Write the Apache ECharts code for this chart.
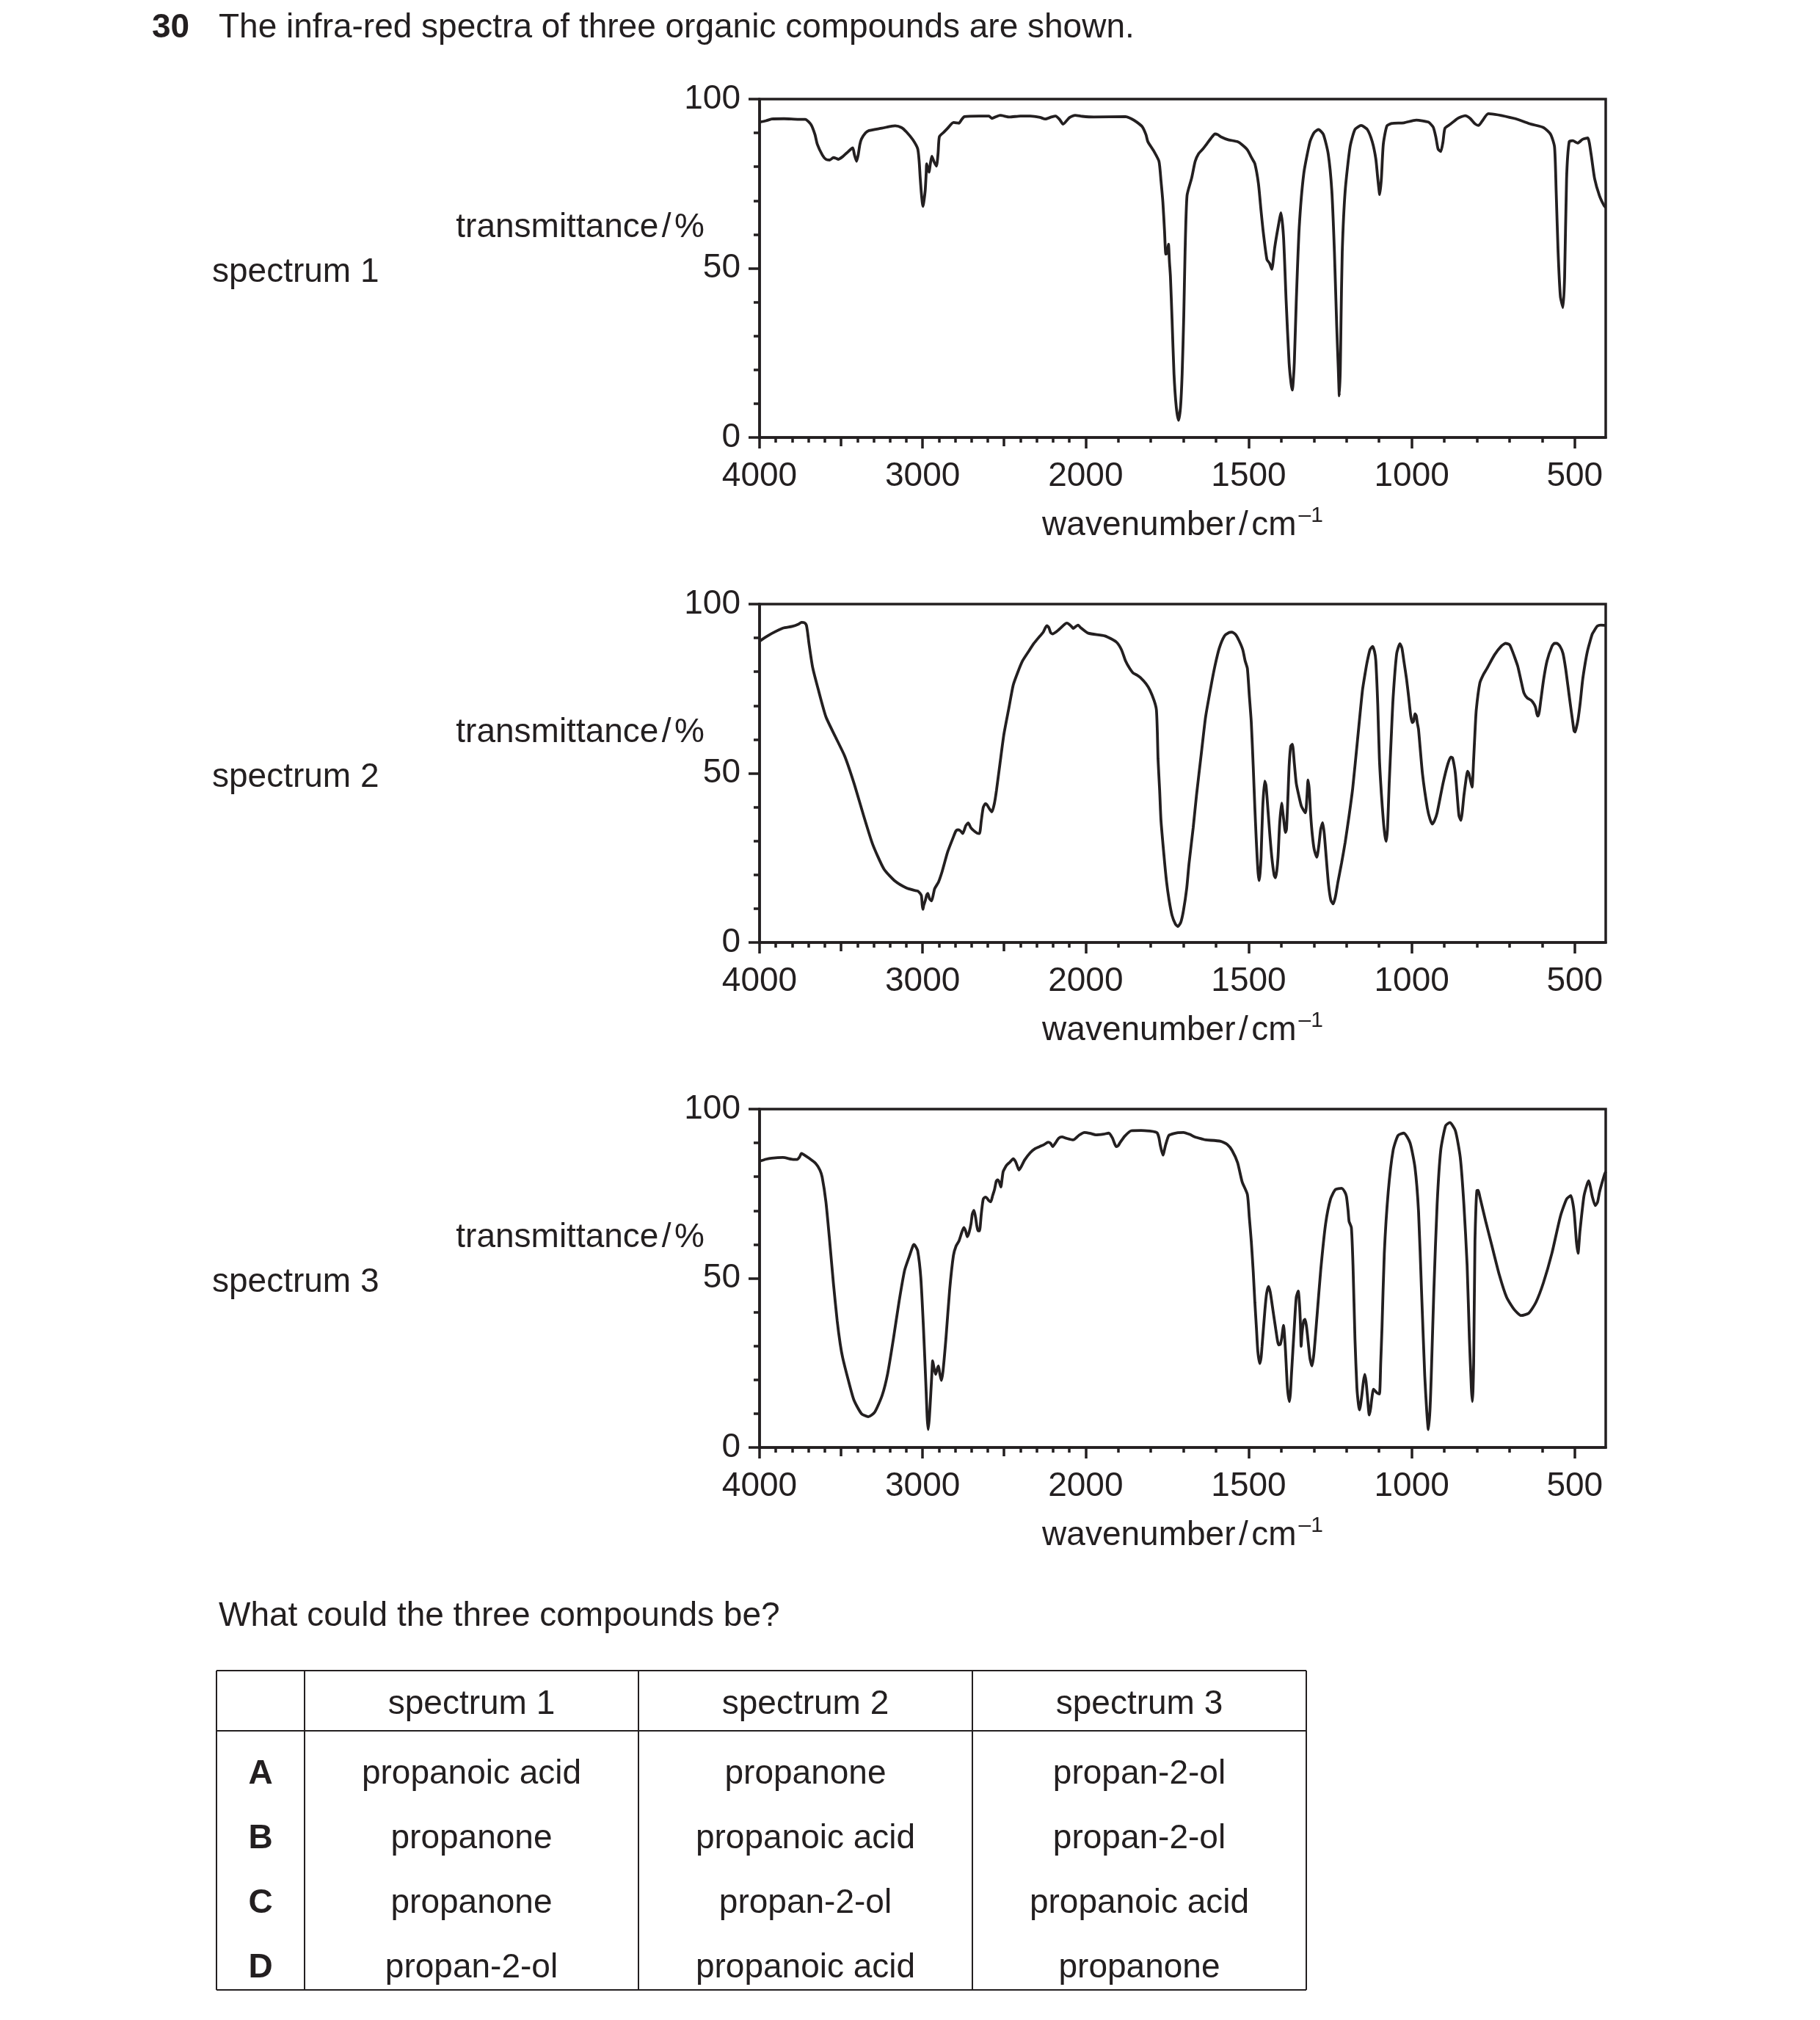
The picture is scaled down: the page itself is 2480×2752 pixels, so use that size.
<!DOCTYPE html>
<html>
<head>
<meta charset="utf-8">
<title>Infra-red spectra of three organic compounds</title>
<script src="https://cdn.jsdelivr.net/npm/echarts@6/dist/echarts.min.js"></script>
<style>
    html, body { margin: 0; padding: 0; background: #fff; }
    #chart { width: 2480px; height: 2752px; }
</style>
</head>
<body>
<div id="chart"></div>
<script>
    // [wavenumber / cm-1, transmittance / %]
    const spectrum1 = [
        [4000,93.2],[3960,93.6],[3926,94.1],[3850,94.2],[3760,94.0],[3720,94.0],[3685,92.5],[3660,89.5],[3646,86.7],[3615,83.5],
        [3593,82.2],[3570,82.0],[3547,82.7],[3530,82.5],[3517,82.2],[3490,83.0],[3467,84.0],[3440,85.2],[3428,85.6],[3418,83.5],
        [3405,81.6],[3395,83.5],[3385,86.5],[3375,88.2],[3350,90.0],[3329,90.7],[3250,91.4],[3190,92.0],[3168,92.1],[3130,91.6],
        [3099,90.3],[3060,88.0],[3030,85.3],[3021,81.6],[3015,77.0],[3009,73.0],[3002,69.5],[2998,68.3],[2993,69.5],[2984,73.0],
        [2978,78.0],[2975,80.9],[2968,79.5],[2961,78.4],[2952,81.0],[2943,83.1],[2930,81.5],[2915,80.2],[2905,84.0],[2897,88.9],
        [2870,90.2],[2846,91.4],[2811,93.1],[2795,93.0],[2777,92.9],[2760,94.0],[2743,94.8],[2650,95.0],[2593,95.0],[2575,94.3],
        [2550,94.8],[2524,95.2],[2467,94.7],[2400,95.0],[2340,95.0],[2280,94.6],[2248,94.1],[2210,94.7],[2184,95.0],[2160,94.0],
        [2138,92.6],[2100,94.5],[2064,95.2],[2020,94.9],[1975,94.7],[1878,94.8],[1860,94.2],[1843,93.2],[1826,91.8],[1815,89.5],
        [1809,87.4],[1790,84.5],[1775,81.6],[1769,76.0],[1763,69.4],[1758,61.0],[1754,54.2],[1750,54.5],[1746,57.1],[1743,52.0],
        [1740,47.7],[1735,35.0],[1729,18.8],[1722,9.0],[1715,5.1],[1709,9.0],[1704,18.8],[1699,36.0],[1695,54.9],[1689,71.5],
        [1675,76.6],[1664,81.6],[1654,83.8],[1640,85.3],[1632,86.3],[1615,88.5],[1603,89.7],[1595,89.5],[1586,88.9],[1563,88.0],
        [1534,87.4],[1520,86.5],[1504,85.0],[1490,82.5],[1481,80.9],[1470,75.0],[1462,67.0],[1455,60.5],[1444,52.6],[1436,51.5],
        [1429,49.7],[1420,56.2],[1410,62.0],[1401,66.4],[1393,59.1],[1385,40.2],[1376,22.1],[1370,16.0],[1366,14.0],[1363,17.0],
        [1360,22.1],[1354,40.2],[1345,62.0],[1331,78.0],[1312,87.4],[1300,90.0],[1286,91.0],[1271,89.6],[1256,83.8],[1245,72.9],
        [1237,54.8],[1230,33.0],[1225,20.0],[1222,12.3],[1219,20.0],[1217,33.0],[1213,54.8],[1204,72.9],[1189,85.9],[1174,91.0],
        [1155,92.2],[1136,91.0],[1121,87.4],[1110,82.3],[1104,76.5],[1098,71.8],[1093,76.5],[1087,86.7],[1076,92.1],[1061,92.8],
        [1024,93.0],[986,93.8],[949,93.2],[934,91.7],[926,88.8],[919,85.2],[911,84.5],[904,87.4],[898,91.4],[881,92.6],
        [859,94.3],[836,95.1],[821,94.3],[806,92.7],[795,92.2],[784,93.5],[765,95.7],[686,94.3],[634,92.6],[596,91.6],
        [574,89.6],[562,85.9],[557,72.9],[551,54.8],[544,41.7],[536,38.4],[531,47.5],[525,76.5],[517,87.4],[506,87.7],
        [491,87.0],[476,88.1],[460,88.5],[450,83.8],[439,76.5],[424,71.4],[410,68.5],[405,68.0]
    ]
    const spectrum2 = [
        [4000,89.0],[3960,90.3],[3926,91.3],[3857,92.9],[3800,93.4],[3760,94.1],[3743,94.6],[3725,94.5],[3713,93.8],[3705,91.5],
        [3697,88.4],[3674,81.2],[3639,74.6],[3593,66.7],[3536,60.9],[3478,55.1],[3421,47.1],[3363,37.7],[3306,29.0],[3237,21.7],
        [3168,18.1],[3099,16.1],[3050,15.4],[3030,15.2],[3015,14.5],[3007,13.8],[3002,11.0],[2998,9.8],[2993,11.0],[2984,12.3],
        [2975,14.0],[2968,14.5],[2958,13.0],[2945,12.3],[2935,14.0],[2926,15.9],[2903,17.8],[2880,21.0],[2846,26.8],[2811,31.2],
        [2795,33.0],[2782,33.3],[2768,33.0],[2754,32.2],[2735,34.5],[2720,35.3],[2705,34.0],[2685,33.0],[2665,32.3],[2651,32.2],
        [2640,36.0],[2628,39.9],[2615,41.0],[2605,40.7],[2590,39.5],[2575,38.6],[2560,41.0],[2547,44.9],[2525,53.0],[2501,61.6],
        [2470,69.5],[2444,76.1],[2415,80.0],[2386,83.3],[2350,86.0],[2317,88.4],[2290,90.0],[2260,91.7],[2245,93.2],[2237,93.6],
        [2225,93.0],[2215,91.6],[2202,91.2],[2180,91.8],[2156,92.8],[2130,94.0],[2115,94.4],[2100,94.0],[2085,93.3],[2076,92.8],
        [2060,93.4],[2046,93.8],[2030,93.0],[1992,91.4],[1941,90.6],[1906,88.8],[1890,86.5],[1878,83.3],[1865,81.0],[1855,79.7],
        [1842,79.0],[1832,78.3],[1815,76.5],[1803,74.6],[1790,71.5],[1783,68.8],[1780,62.0],[1778,54.3],[1773,45.0],[1769,36.2],
        [1760,26.0],[1752,18.1],[1744,12.5],[1735,8.0],[1725,5.5],[1717,4.7],[1708,6.0],[1700,9.4],[1690,16.0],[1683,23.2],
        [1670,34.0],[1660,43.5],[1645,56.0],[1632,66.7],[1615,76.0],[1603,81.9],[1590,87.0],[1574,90.6],[1560,91.6],[1551,91.7],
        [1540,91.0],[1529,89.1],[1518,86.5],[1511,83.3],[1504,81.0],[1498,73.0],[1492,65.1],[1486,52.0],[1481,39.7],[1477,31.0],
        [1474,25.2],[1471,20.5],[1468,18.3],[1465,20.5],[1462,25.2],[1457,39.7],[1451,47.7],[1447,46.5],[1444,43.3],[1436,33.0],
        [1429,25.2],[1422,20.0],[1418,19.1],[1414,21.0],[1410,25.2],[1405,35.0],[1399,41.2],[1394,37.5],[1387,32.5],[1384,33.5],
        [1380,42.0],[1376,52.0],[1371,58.0],[1366,58.6],[1360,53.0],[1354,47.0],[1346,43.3],[1338,40.2],[1326,38.3],[1321,43.5],
        [1318,48.0],[1314,45.0],[1310,38.0],[1305,32.0],[1299,27.5],[1291,25.2],[1285,28.5],[1279,33.5],[1273,35.4],[1268,32.0],
        [1262,25.0],[1255,17.0],[1248,12.5],[1241,11.4],[1234,13.5],[1226,18.0],[1215,23.5],[1204,29.6],[1192,37.5],[1181,45.5],
        [1166,60.0],[1151,74.5],[1142,80.0],[1136,83.2],[1128,86.5],[1120,87.5],[1114,86.0],[1110,83.2],[1104,70.0],[1099,54.2],
        [1093,44.0],[1087,36.1],[1082,31.5],[1078,29.9],[1074,34.0],[1069,47.0],[1063,60.0],[1057,72.3],[1046,85.4],[1036,88.3],
        [1030,87.0],[1024,83.2],[1016,78.0],[1009,72.3],[1003,67.0],[998,65.0],[994,65.4],[990,67.6],[986,67.0],[983,65.0],
        [979,62.9],[967,49.9],[952,39.7],[944,36.5],[937,35.0],[930,36.0],[922,38.3],[904,47.0],[889,52.8],[880,54.8],
        [875,54.6],[870,52.5],[866,49.9],[860,43.0],[855,37.5],[849,36.1],[845,38.5],[840,43.3],[833,48.5],[829,50.6],
        [825,50.0],[821,48.4],[815,45.9],[810,54.2],[806,62.0],[802,68.7],[791,76.7],[780,79.2],[769,81.0],[746,85.0],
        [725,87.6],[712,88.4],[700,88.0],[694,86.8],[685,84.5],[675,81.7],[665,77.5],[656,73.8],[645,72.2],[634,71.6],
        [625,70.5],[620,69.4],[616,67.5],[613,66.9],[609,68.0],[604,71.6],[595,78.0],[585,83.2],[570,87.5],[562,88.4],
        [555,88.4],[545,87.5],[536,85.4],[528,81.0],[521,75.9],[513,70.0],[506,65.1],[502,62.5],[499,62.2],[495,63.5],
        [490,65.8],[483,71.0],[476,77.4],[468,82.5],[461,86.1],[453,89.0],[446,91.2],[438,92.5],[431,93.5],[420,93.8],
        [405,93.7]
    ]
    const spectrum3 = [
        [4000,84.6],[3960,85.2],[3926,85.5],[3857,85.7],[3789,85.1],[3770,85.1],[3755,85.8],[3743,86.9],[3730,86.6],[3697,85.5],
        [3655,83.9],[3630,82.0],[3616,79.9],[3593,72.6],[3570,61.0],[3547,48.5],[3524,37.5],[3505,30.5],[3490,26.5],[3455,19.8],
        [3421,14.0],[3375,10.0],[3333,9.1],[3294,10.4],[3248,15.4],[3214,21.9],[3179,32.1],[3145,42.9],[3110,52.4],[3080,56.7],
        [3060,59.5],[3053,60.0],[3045,59.6],[3030,58.1],[3011,50.2],[2995,35.7],[2979,17.6],[2972,9.0],[2966,5.3],[2959,8.5],
        [2952,14.0],[2944,21.0],[2938,25.6],[2930,23.5],[2920,21.6],[2912,23.0],[2903,24.1],[2895,22.0],[2885,19.8],[2875,22.5],
        [2857,32.1],[2834,46.6],[2811,56.7],[2795,59.5],[2777,61.0],[2760,63.5],[2747,65.0],[2736,64.0],[2726,62.3],[2715,63.5],
        [2703,66.1],[2695,69.0],[2685,70.1],[2675,68.0],[2667,65.4],[2660,64.0],[2651,64.0],[2640,69.0],[2628,73.4],[2615,74.0],
        [2605,73.7],[2595,73.0],[2582,72.6],[2570,74.5],[2559,76.2],[2548,78.7],[2540,79.1],[2530,78.5],[2520,77.0],[2512,79.5],
        [2506,81.5],[2495,82.6],[2483,83.5],[2465,84.3],[2444,85.3],[2430,84.5],[2418,83.0],[2409,82.0],[2395,83.0],[2375,84.9],
        [2340,87.1],[2310,88.3],[2283,88.9],[2255,89.5],[2230,90.2],[2215,89.9],[2202,88.9],[2185,90.0],[2165,91.4],[2145,91.8],
        [2120,91.4],[2076,90.9],[2040,92.3],[2007,93.1],[1985,92.8],[1969,92.4],[1945,92.6],[1929,92.9],[1918,91.5],[1912,90.0],
        [1906,88.9],[1900,89.2],[1895,90.0],[1880,92.0],[1860,93.6],[1830,93.7],[1803,93.5],[1785,93.2],[1780,92.9],[1775,91.5],
        [1771,89.3],[1763,86.4],[1755,89.3],[1748,91.5],[1744,92.3],[1720,93.0],[1700,93.1],[1680,92.5],[1666,91.8],[1640,91.1],
        [1632,90.9],[1586,90.5],[1565,89.5],[1551,87.8],[1534,84.2],[1520,78.5],[1504,74.8],[1498,68.0],[1492,61.0],[1486,52.0],
        [1481,42.9],[1476,35.0],[1472,28.5],[1466,24.8],[1462,26.5],[1459,29.9],[1450,40.8],[1445,45.5],[1439,47.6],[1434,46.0],
        [1429,42.9],[1417,35.0],[1408,30.3],[1403,30.5],[1399,32.1],[1393,36.1],[1390,33.0],[1387,28.5],[1381,17.6],[1375,13.6],
        [1372,16.0],[1369,21.2],[1360,35.7],[1354,44.4],[1348,46.2],[1344,42.2],[1341,36.0],[1339,29.9],[1337,33.0],[1335,35.0],
        [1331,37.5],[1327,37.9],[1323,36.0],[1320,33.5],[1312,26.3],[1306,24.1],[1300,27.7],[1290,39.3],[1279,52.4],[1264,66.1],
        [1249,73.4],[1234,76.2],[1215,76.6],[1205,75.5],[1200,74.1],[1195,70.0],[1192,66.8],[1185,65.0],[1180,53.8],[1174,32.1],
        [1168,17.6],[1163,12.5],[1160,11.1],[1157,12.5],[1153,15.4],[1148,19.5],[1144,21.6],[1140,19.5],[1136,15.4],[1130,9.6],
        [1126,11.5],[1123,14.0],[1117,17.2],[1110,16.5],[1106,16.1],[1099,15.8],[1095,25.0],[1091,35.7],[1084,57.4],[1072,75.5],
        [1057,87.8],[1042,92.2],[1024,92.9],[1005,90.0],[990,82.8],[979,69.7],[970,46.6],[960,21.2],[954,11.0],[949,5.3],
        [944,11.0],[940,21.2],[932,46.6],[922,71.9],[911,87.8],[896,95.1],[883,96.0],[866,93.6],[851,85.7],[840,71.9],
        [830,53.8],[823,32.1],[817,17.6],[814,13.6],[812,17.0],[810,24.8],[806,61.0],[803,71.0],[800,75.9],[796,76.0],
        [791,74.1],[773,66.8],[754,59.6],[731,50.9],[709,44.4],[686,40.8],[664,39.0],[641,39.7],[619,42.9],[596,48.7],
        [570,57.4],[544,68.3],[525,73.4],[512,74.4],[502,69.7],[495,61.0],[490,57.4],[484,63.9],[472,74.1],[463,77.5],
        [457,78.8],[452,77.0],[446,74.1],[437,71.5],[430,72.5],[424,75.5],[409,80.6],[405,81.5]
    ]
    const spectra = [spectrum1, spectrum2, spectrum3]
    const spectrumNames = ['spectrum 1', 'spectrum 2', 'spectrum 3']

    // axis ticks, in cm-1
    const majorTicks = [4000, 3000, 2000, 1500, 1000, 500]
    const mediumTicks = [3500, 2500]
    const minorTicks = []
    for (let w = 3900; w > 500; w -= 100) {
        if (majorTicks.indexOf(w) < 0 && mediumTicks.indexOf(w) < 0) minorTicks.push(w)
    }
    const yLabels = [0, 50, 100]
    const axisEnd = 405

    // answer table
    const tableHeader = ['', 'spectrum 1', 'spectrum 2', 'spectrum 3']
    const optionLetters = ['A', 'B', 'C', 'D']
    const optionRows = [
        ['propanoic acid', 'propanone', 'propan-2-ol'],
        ['propanone', 'propanoic acid', 'propan-2-ol'],
        ['propanone', 'propan-2-ol', 'propanoic acid'],
        ['propan-2-ol', 'propanoic acid', 'propanone']
    ]

    const FONT = "'Liberation Sans', Arial, Helvetica, sans-serif"
    const INK = '#231f20'
    const plotLeft = 1035, plotWidth = 1153, plotHeight = 461
    const plotTops = [135, 823, 1511]

    // the wavenumber axis is twice as compressed above 2000 cm-1 as below it
    function toAxis(w) { return w >= 2000 ? (4000 - w) / 1000 : 2 + (2000 - w) / 500 }
    function fromAxis(u) { return u <= 2 ? 4000 - u * 1000 : 2000 - (u - 2) * 500 }

    const measureCtx = document.createElement('canvas').getContext('2d')
    function textWidth(text, size) {
        measureCtx.font = size + 'px ' + FONT
        return measureCtx.measureText(text).width
    }
    function plainText(x, y, text, extra) {
        return {
            type: 'text', x: x, y: y,
            style: Object.assign({text: text, fontSize: 46, fontFamily: FONT, fill: INK, align: 'left', verticalAlign: 'middle'}, extra || {})
        }
    }

    const grids = [], xAxes = [], yAxes = [], series = [], graphics = []

    spectra.forEach((sp, k) => {
        const top = plotTops[k]
        grids.push({
            left: plotLeft, top: top, width: plotWidth, height: plotHeight,
            show: true, borderColor: INK, borderWidth: 3.5, backgroundColor: 'transparent',
            outerBoundsMode: 'none'
        })
        const xBase = {
            type: 'value', gridIndex: k, min: 0, max: toAxis(axisEnd), position: 'bottom',
            splitLine: {show: false}, axisLine: {show: false, onZero: false}
        }
        xAxes.push(Object.assign({}, xBase, {
            axisLine: {show: true, onZero: false, lineStyle: {color: INK, width: 3.5}},
            axisTick: {customValues: majorTicks.map(toAxis), length: 15, lineStyle: {color: INK, width: 3.5}},
            axisLabel: {
                customValues: majorTicks.map(toAxis),
                formatter: v => String(Math.round(fromAxis(v))),
                fontSize: 46, fontFamily: FONT, color: INK, margin: 30
            }
        }))
        xAxes.push(Object.assign({}, xBase, {
            axisTick: {customValues: mediumTicks.map(toAxis), length: 12, lineStyle: {color: INK, width: 3.5}},
            axisLabel: {show: false}
        }))
        xAxes.push(Object.assign({}, xBase, {
            axisTick: {customValues: minorTicks.map(toAxis), length: 7, lineStyle: {color: INK, width: 3.5}},
            axisLabel: {show: false}
        }))
        yAxes.push({
            type: 'value', gridIndex: k, min: 0, max: 100, position: 'left',
            splitLine: {show: false},
            axisLine: {show: true, onZero: false, lineStyle: {color: INK, width: 3.5}},
            axisTick: {customValues: yLabels, length: 15, lineStyle: {color: INK, width: 3.5}},
            axisLabel: {customValues: yLabels, fontSize: 46, fontFamily: FONT, color: INK, margin: 26, padding: [14, 0, 0, 0]}
        })
        yAxes.push({
            type: 'value', gridIndex: k, min: 0, max: 100, interval: 10, position: 'left',
            splitLine: {show: false},
            axisLine: {show: false, onZero: false},
            axisTick: {length: 8, lineStyle: {color: INK, width: 3.5}},
            axisLabel: {show: false}
        })
        series.push({
            type: 'line',
            name: spectrumNames[k],
            xAxisIndex: k * 3,
            yAxisIndex: k * 2,
            data: sp.map(p => [toAxis(p[0]), p[1]]),
            showSymbol: false,
            smooth: 0.2,
            silent: true,
            lineStyle: {color: INK, width: 3.8}
        })

        graphics.push(plainText(289, top + 236, spectrumNames[k]))
        graphics.push({
            type: 'text', x: 960, y: top + 175,
            style: {
                text: '{t|transmittance}{s| }{t|/}{s| }{t|%}',
                rich: {t: {fontSize: 46, fontFamily: FONT, fill: INK}, s: {fontSize: 16, fontFamily: FONT}},
                align: 'right', verticalAlign: 'middle'
            }
        })

        // wavenumber / cm-1 with a raised -1, laid out piece by piece
        const gap = 4.5
        const parts = ['wavenumber', '/', 'cm']
        const widths = parts.map(p => textWidth(p, 46))
        const supText = '\u20131'
        const supWidth = textWidth(supText, 30)
        const total = widths.reduce((a, b) => a + b, 0) + gap * 2 + 3 + supWidth
        let x = plotLeft + plotWidth / 2 - total / 2
        const yMain = top + plotHeight + 120
        parts.forEach((p, i) => {
            graphics.push(plainText(x, yMain, p))
            x += widths[i] + (i < parts.length - 1 ? gap : 3)
        })
        graphics.push(plainText(x, yMain - 13, supText, {fontSize: 30}))
    })

    // question text
    graphics.push(plainText(207, 38, '30', {fontWeight: 'bold'}))
    graphics.push(plainText(298, 38, 'The infra-red spectra of three organic compounds are shown.'))
    graphics.push(plainText(298, 2202, 'What could the three compounds be?'))

    // answer table
    const colEdges = [295, 415, 870, 1325, 1780]
    const tableTop = 2276, headerBottom = 2358, tableBottom = 2711
    const headerY = 2322
    const rowY = [2417, 2505, 2593, 2681]
    const tableLine = {stroke: INK, lineWidth: 2}
    ;[tableTop, headerBottom, tableBottom].forEach(y => {
        graphics.push({type: 'line', shape: {x1: colEdges[0], y1: y, x2: colEdges[4], y2: y}, style: tableLine})
    })
    colEdges.forEach(x => {
        graphics.push({type: 'line', shape: {x1: x, y1: tableTop, x2: x, y2: tableBottom}, style: tableLine})
    })
    const colCentre = i => (colEdges[i] + colEdges[i + 1]) / 2
    tableHeader.forEach((h, i) => {
        if (!h) return
        graphics.push(plainText(colCentre(i), headerY, h, {align: 'center'}))
    })
    optionLetters.forEach((letter, r) => {
        graphics.push(plainText(colCentre(0), rowY[r], letter, {align: 'center', fontWeight: 'bold'}))
        optionRows[r].forEach((name, c) => {
            graphics.push(plainText(colCentre(c + 1), rowY[r], name, {align: 'center'}))
        })
    })

    const chart = echarts.init(document.getElementById('chart'), null, {renderer: 'canvas'})
    chart.setOption({
        backgroundColor: '#ffffff',
        animation: false,
        textStyle: {fontFamily: FONT},
        grid: grids,
        xAxis: xAxes,
        yAxis: yAxes,
        series: series,
        graphic: graphics
    })
    window.addEventListener('resize', () => chart.resize())
</script>
</body>
</html>
